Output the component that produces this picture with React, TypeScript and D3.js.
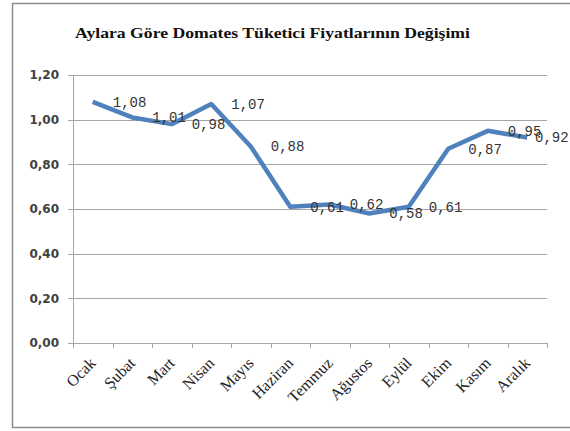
import React from "react";
import * as d3 from "d3";

const months = ["Ocak", "Şubat", "Mart", "Nisan", "Mayıs", "Haziran", "Temmuz", "Ağustos", "Eylül", "Ekim", "Kasım", "Aralık"];
const prices = [1.08, 1.01, 0.98, 1.07, 0.88, 0.61, 0.62, 0.58, 0.61, 0.87, 0.95, 0.92];
const yTicks = [0, 0.2, 0.4, 0.6, 0.8, 1.0, 1.2];
const title = "Aylara Göre Domates Tüketici Fiyatlarının Değişimi";

const W = 570, H = 431;
const left = 73, right = 547, top = 75, bottom = 343;

export default function App() {
  const x = d3.scaleBand<string>().domain(months).range([left, right]).padding(0);
  const y = d3.scaleLinear().domain([0, 1.2]).range([bottom, top]);
  const cx = (m: string) => (x(m) as number) + x.bandwidth() / 2;
  const line = d3.line<number>().x((_, i) => cx(months[i])).y((d) => y(d));
  const fmt = (v: number) => v.toFixed(2).replace(".", ",");
  const labelW = 32;

  return (
    <svg width={W} height={H} style={{ position: "absolute", left: 0, top: 0, background: "#fff" }}>
      <rect x={12.5} y={3.5} width={W} height={424} fill="#fff" stroke="#8c8c8c" strokeWidth={1.5} />
      <text x={75} y={38} fontFamily="Liberation Serif" fontWeight="bold" fontSize={15} fill="#111" textLength={395} lengthAdjust="spacingAndGlyphs">{title}</text>
      {yTicks.map((t) => (
        <g key={t}>
          <line x1={left} x2={right} y1={Math.round(y(t)) + 0.5} y2={Math.round(y(t)) + 0.5} stroke="#a6a6a6" strokeWidth={1} />
          <line x1={left - 5} x2={left} y1={Math.round(y(t)) + 0.5} y2={Math.round(y(t)) + 0.5} stroke="#a6a6a6" />
          <text x={59} y={y(t)} dy="0.35em" textAnchor="end" fontFamily="DejaVu Sans" fontWeight="bold" fontSize={12} fill="#404040">{fmt(t)}</text>
        </g>
      ))}
      <line x1={left + 0.5} x2={left + 0.5} y1={top} y2={bottom} stroke="#a6a6a6" />
      {[...months.map((m) => x(m) as number), right].map((tx, i) => (
        <line key={i} x1={Math.round(tx) + 0.5} x2={Math.round(tx) + 0.5} y1={bottom} y2={bottom + 5} stroke="#a6a6a6" />
      ))}
      {months.map((m) => (
        <text key={m} transform={`translate(${cx(m) + 4},${bottom + 21}) rotate(-45)`} textAnchor="end" fontFamily="Liberation Serif" fontSize={16} fill="#222">{m}</text>
      ))}
      <path d={line(prices) || ""} fill="none" stroke="#4f81bd" strokeWidth={4.5} strokeLinejoin="round" />
      {prices.map((v, i) => (
        <text key={i} x={Math.min(cx(months[i]) + 20, W - 3 - labelW)} y={y(v)} dy="0.35em" textAnchor="start" fontFamily="Liberation Mono" fontSize={14} fill="#333">{fmt(v)}</text>
      ))}
    </svg>
  );
}
